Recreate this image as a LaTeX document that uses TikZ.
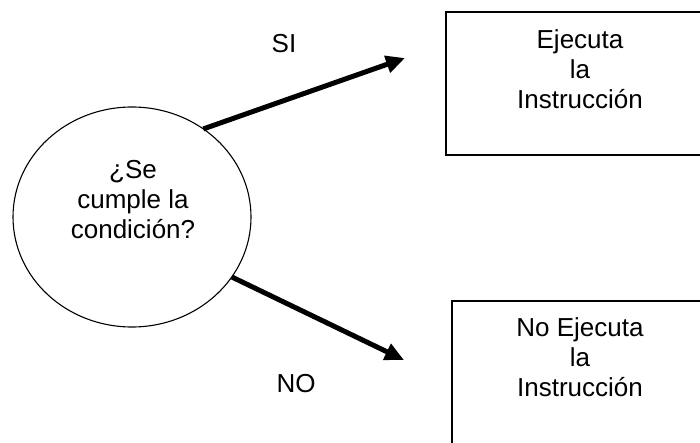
\documentclass[tikz,border=0pt]{standalone}
\usepackage{fontspec}
\setmainfont{Liberation Sans}
\usetikzlibrary{arrows.meta,shapes.geometric}
\begin{document}
\begin{tikzpicture}[x=1pt,y=-1pt,
    txt/.style={align=center,inner sep=0pt,outer sep=0pt,font=\fontsize{26}{30}\selectfont},
    caja/.style={draw,line width=1.2pt,inner sep=0pt,outer sep=0pt,anchor=north west,minimum width=262pt},
    flecha/.style={line width=5pt,-{Triangle[length=19pt,width=17pt]}}]
    \useasboundingbox (0,0) rectangle (700,443);
    \clip (0,0) rectangle (700,443);
    
    % 条件
    \node[draw,ellipse,line width=1.1pt,inner sep=0pt,outer sep=0pt,minimum width=238pt,minimum height=220pt] (cond) at (132,217) {};
    \node[txt,anchor=north] (cond text) at (133,160.5) {¿Se\\cumple la\\condición?};
    
    % 执行
    \node[caja,minimum height=143pt] (si box) at (446,12) {};
    \node[txt,anchor=north] (si text) at (580,29.4) {Ejecuta\\la\\Instrucción};
    
    % 不执行
    \node[caja,minimum height=160pt] (no box) at (452,301) {};
    \node[txt,anchor=north] (no text) at (580,318) {No Ejecuta\\la\\Instrucción};
    
    % 箭头
    \coordinate (si end) at (405,58);
    \coordinate (no end) at (404,360);
    \draw[flecha] (cond.51) -- (si end);
    \draw[flecha] (cond.-31) -- (no end);
    \node[txt,anchor=base] (si) at (284,53) {SI};
    \node[txt,anchor=base] (no) at (296,392) {NO};
\end{tikzpicture}
\end{document}
